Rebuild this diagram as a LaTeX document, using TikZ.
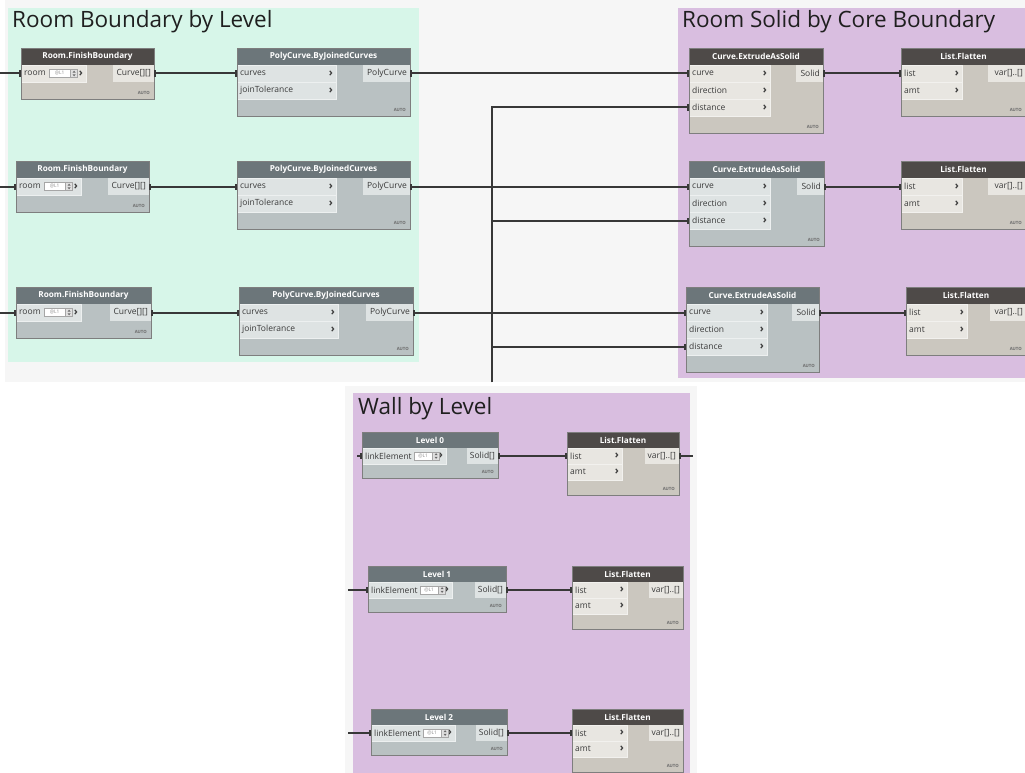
\documentclass[tikz,border=0pt]{standalone}
\usepackage{fontspec}
\setmainfont{Open Sans}
\usetikzlibrary{arrows.meta}

% palette
\definecolor{bggrey}{HTML}{F6F6F6}
\definecolor{mint}{HTML}{D7F6E9}
\definecolor{lilac}{HTML}{D9BEE0}
\definecolor{headA}{HTML}{6C767A}
\definecolor{bodyA}{HTML}{B9C1C2}
\definecolor{portA}{HTML}{DEE3E3}
\definecolor{headB}{HTML}{4E4A48}
\definecolor{bodyB}{HTML}{CBC7BF}
\definecolor{portB}{HTML}{E8E6E1}
\definecolor{framecol}{HTML}{7E7E7E}
\definecolor{wirecol}{HTML}{383838}
\definecolor{labelcol}{HTML}{3A3A3A}
\definecolor{autocol}{HTML}{6A6A6A}

% header and row heights (changed for the lower group)
\newcommand{\HdrH}{17}
\newcommand{\RowH}{17}

\newcommand{\hdrfont}{\bfseries\fontsize{8.2}{9}\selectfont}
\newcommand{\portfont}{\fontsize{8.5}{9}\selectfont}
\newcommand{\chevfont}{\bfseries\fontsize{11}{11}\selectfont}
\newcommand{\autofont}{\bfseries\fontsize{4.3}{5}\selectfont}

% node body with header and AUTO mark: name, x, y, width, height, title, scheme
\newcommand{\dynbox}[7]{%
  \node[fill=body#7, minimum width=#4, minimum height=#5, anchor=north west,
        inner sep=0, outer sep=0] (#1) at (#2,#3) {};
  \node[fill=head#7, minimum width=#4, minimum height=\HdrH, anchor=north,
        inner sep=0, outer sep=0, text=white, font=\hdrfont] (#1-t) at (#1.north) {#6};
  \node[font=\autofont, text=autocol, anchor=south east, inner sep=0]
        (#1-a) at ([shift={(-4pt,4.5pt)}]#1.south east) {AUTO};
}
% input row: node, index, width, label, scheme
\newcommand{\inport}[5]{%
  \node[fill=port#5, draw=white!45!port#5, line width=0.5pt, minimum width=#3,
        minimum height=\RowH, anchor=north west, inner sep=0, outer sep=0]
        (#1-i#2) at ([yshift={-(\HdrH+(#2-1)*\RowH)}]#1.north west) {};
  \node[font=\portfont, text=labelcol, anchor=west, inner sep=0]
        (#1-i#2-l) at ([xshift=3pt]#1-i#2.west) {#4};
  \node[font=\chevfont, text=labelcol, anchor=east, inner sep=0]
        (#1-i#2-c) at ([xshift=-3pt]#1-i#2.east) {›};
}
% output row: node, width, label, scheme
\newcommand{\outport}[4]{%
  \node[fill=port#4, minimum width=#2, minimum height=\RowH, anchor=north east,
        inner sep=0, outer sep=0] (#1-o) at ([yshift={-\HdrH}]#1.north east) {};
  \node[font=\portfont, text=labelcol, anchor=east, inner sep=0]
        (#1-o-l) at ([xshift=-3pt]#1-o.east) {#3};
}
% level selector field with spinner: port, x offset, box width
\newcommand{\lvlwidget}[3]{%
  \node[fill=white, draw=black!35, line width=0.4pt, minimum width=#3, minimum height=8,
        inner sep=0, anchor=west, font=\fontsize{4.8}{5}\selectfont, text=black!45]
        (#1-b) at ([xshift=#2]#1.west) {@L1};
  \node[fill=black!12, draw=black!35, line width=0.4pt, minimum width=7, minimum height=8,
        inner sep=0, anchor=west] (#1-s) at (#1-b.east) {};
  \fill[black!60] ([shift={(-1.6pt,0.8pt)}]#1-s.center) -- ++(3.2pt,0) -- ++(-1.6pt,2pt) -- cycle;
  \fill[black!60] ([shift={(-1.6pt,-0.8pt)}]#1-s.center) -- ++(3.2pt,0) -- ++(-1.6pt,-2pt) -- cycle;
}
\newcommand{\dynframe}[1]{\draw[framecol, line width=0.6pt] (#1.north west) rectangle (#1.south east);}

\begin{document}
\begin{tikzpicture}[x=1pt, y=-1pt,
  wire/.style={draw=wirecol, line width=2pt,
    {Rectangle[length=1.8pt,width=6pt]}-{Rectangle[length=1.8pt,width=6pt]}},
  stub/.style={draw=wirecol, line width=2pt, -{Rectangle[length=1.8pt,width=6pt]}},
  tail/.style={draw=wirecol, line width=2pt, {Rectangle[length=1.8pt,width=6pt]}-},
  grouptitle/.style={font=\fontsize{22.5}{26}\selectfont, text=black!88, anchor=west, inner sep=0}]
\clip (0,0) rectangle (1025,773);

% canvas and groups
\fill[bggrey] (5,0) rectangle (1025,382);
\fill[bggrey] (345,386) rectangle (697,773);
\fill[mint] (8,8) rectangle (419,362);
\fill[lilac] (678,8) rectangle (1025,378);
\fill[lilac] (353,393) rectangle (690,773);
\node[grouptitle] (g1) at (12,22) {Room Boundary by Level};
\node[grouptitle] (g2) at (682,22) {Room Solid by Core Boundary};
\node[grouptitle] (g3) at (358,409) {Wall by Level};

% ---- row 1
\dynbox{ra}{21}{48}{133}{51}{Room.FinishBoundary}{B}
\inport{ra}{1}{65}{room}{B}
\lvlwidget{ra-i1}{28}{21}
\outport{ra}{41}{Curve[][]}{B}
\dynframe{ra}

\dynbox{pa}{237}{48}{173}{68}{PolyCurve.ByJoinedCurves}{A}
\inport{pa}{1}{99}{curves}{A}
\inport{pa}{2}{99}{joinTolerance}{A}
\outport{pa}{47}{PolyCurve}{A}
\dynframe{pa}

\dynbox{ea}{689}{48}{134}{85}{Curve.ExtrudeAsSolid}{B}
\inport{ea}{1}{81}{curve}{B}
\inport{ea}{2}{81}{direction}{B}
\inport{ea}{3}{81}{distance}{B}
\outport{ea}{27}{Solid}{B}
\dynframe{ea}

\dynbox{la}{901}{48}{125}{68}{List.Flatten}{B}
\inport{la}{1}{61}{list}{B}
\inport{la}{2}{61}{amt}{B}
\outport{la}{38}{var[]..[]}{B}
\dynframe{la}

% ---- row 2
\dynbox{rb}{16}{161}{133}{51}{Room.FinishBoundary}{A}
\inport{rb}{1}{65}{room}{A}
\lvlwidget{rb-i1}{28}{21}
\outport{rb}{41}{Curve[][]}{A}
\dynframe{rb}

\dynbox{pb}{237}{161}{173}{68}{PolyCurve.ByJoinedCurves}{A}
\inport{pb}{1}{99}{curves}{A}
\inport{pb}{2}{99}{joinTolerance}{A}
\outport{pb}{47}{PolyCurve}{A}
\dynframe{pb}

\dynbox{eb}{689}{161}{135}{85}{Curve.ExtrudeAsSolid}{A}
\inport{eb}{1}{81}{curve}{A}
\inport{eb}{2}{81}{direction}{A}
\inport{eb}{3}{81}{distance}{A}
\outport{eb}{27}{Solid}{A}
\dynframe{eb}

\dynbox{lb}{901}{161}{125}{68}{List.Flatten}{B}
\inport{lb}{1}{61}{list}{B}
\inport{lb}{2}{61}{amt}{B}
\outport{lb}{38}{var[]..[]}{B}
\dynframe{lb}

% ---- row 3
\dynbox{rc}{16}{287}{135}{51}{Room.FinishBoundary}{A}
\inport{rc}{1}{65}{room}{A}
\lvlwidget{rc-i1}{28}{21}
\outport{rc}{41}{Curve[][]}{A}
\dynframe{rc}

\dynbox{pc}{239}{287}{174}{68}{PolyCurve.ByJoinedCurves}{A}
\inport{pc}{1}{99}{curves}{A}
\inport{pc}{2}{99}{joinTolerance}{A}
\outport{pc}{47}{PolyCurve}{A}
\dynframe{pc}

\dynbox{ec}{686}{287}{133}{85}{Curve.ExtrudeAsSolid}{A}
\inport{ec}{1}{81}{curve}{A}
\inport{ec}{2}{81}{direction}{A}
\inport{ec}{3}{81}{distance}{A}
\outport{ec}{27}{Solid}{A}
\dynframe{ec}

\dynbox{lc}{906}{287}{120}{68}{List.Flatten}{B}
\inport{lc}{1}{61}{list}{B}
\inport{lc}{2}{61}{amt}{B}
\outport{lc}{36}{var[]..[]}{B}
\dynframe{lc}

% ---- wall group (drawn a little smaller)
\renewcommand{\HdrH}{16}
\renewcommand{\RowH}{16}

\dynbox{wa}{362}{432}{136}{46}{Level 0}{A}
\inport{wa}{1}{84}{linkElement}{A}
\lvlwidget{wa-i1}{52}{18}
\outport{wa}{31}{Solid[]}{A}
\dynframe{wa}

\dynbox{fa}{567}{432}{112}{63}{List.Flatten}{B}
\inport{fa}{1}{55}{list}{B}
\inport{fa}{2}{55}{amt}{B}
\outport{fa}{34}{var[]..[]}{B}
\dynframe{fa}

\dynbox{wb}{368}{566}{138}{46}{Level 1}{A}
\inport{wb}{1}{84}{linkElement}{A}
\lvlwidget{wb-i1}{52}{18}
\outport{wb}{31}{Solid[]}{A}
\dynframe{wb}

\dynbox{fb}{572}{566}{111}{63}{List.Flatten}{B}
\inport{fb}{1}{55}{list}{B}
\inport{fb}{2}{55}{amt}{B}
\outport{fb}{34}{var[]..[]}{B}
\dynframe{fb}

\dynbox{wc}{371}{709}{136}{46}{Level 2}{A}
\inport{wc}{1}{84}{linkElement}{A}
\lvlwidget{wc-i1}{52}{18}
\outport{wc}{31}{Solid[]}{A}
\dynframe{wc}

\dynbox{fc}{572}{709}{111}{63}{List.Flatten}{B}
\inport{fc}{1}{55}{list}{B}
\inport{fc}{2}{55}{amt}{B}
\outport{fc}{34}{var[]..[]}{B}
\dynframe{fc}

% ---- free wire ends
\coordinate (sa) at (0,73.5);
\coordinate (sb) at (0,186.5);
\coordinate (sc) at (0,312.5);
\coordinate (bus) at (492,382);
\coordinate (swa) at (357,456);
\coordinate (swb) at (348,590);
\coordinate (swc) at (348,733);
\coordinate (ofa) at (693,456);

% ---- connectors
\draw[stub] (sa) -- (ra-i1.west);
\draw[stub] (sb) -- (rb-i1.west);
\draw[stub] (sc) -- (rc-i1.west);

\draw[wire] (ra-o.east) -- (pa-i1.west);
\draw[wire] (pa-o.east) -- (ea-i1.west);
\draw[wire] (ea-o.east) -- (la-i1.west);

\draw[wire] (rb-o.east) -- (pb-i1.west);
\draw[wire] (pb-o.east) -- (eb-i1.west);
\draw[wire] (eb-o.east) -- (lb-i1.west);

\draw[wire] (rc-o.east) -- (pc-i1.west);
\draw[wire] (pc-o.east) -- (ec-i1.west);
\draw[wire] (ec-o.east) -- (lc-i1.west);

\draw[stub] (bus) |- (ea-i3.west);
\draw[stub] (bus) |- (eb-i3.west);
\draw[stub] (bus) |- (ec-i3.west);

\draw[stub] (swa) -- (wa-i1.west);
\draw[stub] (swb) -- (wb-i1.west);
\draw[stub] (swc) -- (wc-i1.west);
\draw[wire] (wa-o.east) -- (fa-i1.west);
\draw[wire] (wb-o.east) -- (fb-i1.west);
\draw[wire] (wc-o.east) -- (fc-i1.west);
\draw[tail] (fa-o.east) -- (ofa);
\end{tikzpicture}
\end{document}
